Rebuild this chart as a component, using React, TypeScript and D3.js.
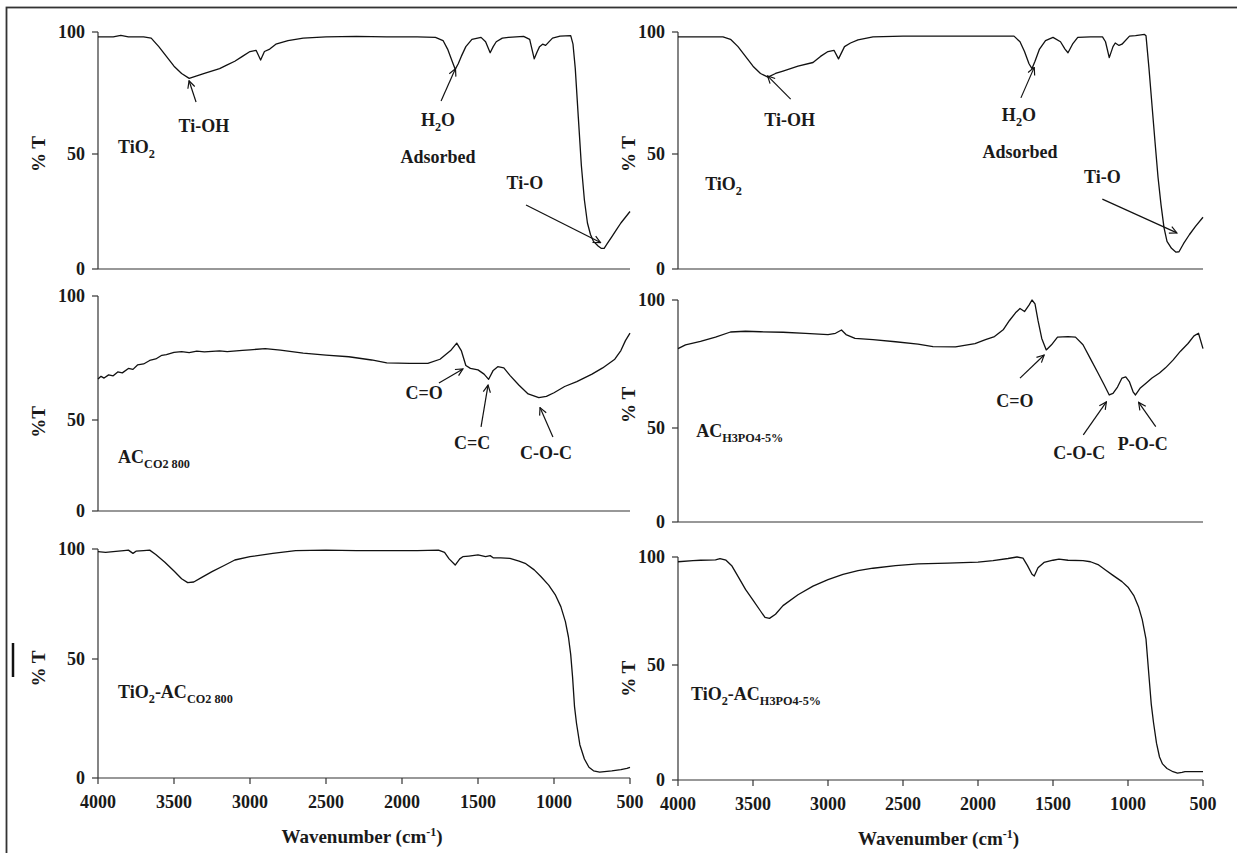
import React from "react";
import * as d3 from "d3";

// wavenumber ticks and %T ticks
const xTicks = [4000, 3500, 3000, 2500, 2000, 1500, 1000, 500];
const yTicks = [0, 50, 100];

// [wavenumber cm-1, %T]
const tio2Left: [number, number][] = [
  [4000, 98], [3900, 98], [3850, 98.6], [3800, 98], [3700, 98], [3650, 97.5], [3600, 94],
  [3550, 90], [3500, 86], [3450, 83], [3400, 81], [3350, 82], [3300, 83], [3200, 85],
  [3150, 86.5], [3100, 88], [3050, 90], [3000, 92], [2960, 92.5], [2930, 88.5], [2905, 92],
  [2870, 93], [2830, 95], [2750, 96.5], [2650, 97.5], [2500, 98], [2300, 98.2], [2100, 98],
  [1900, 98], [1780, 97.8], [1730, 96.5], [1700, 93], [1670, 88], [1650, 84.7], [1630, 87],
  [1610, 90], [1580, 94], [1540, 97], [1480, 97.8], [1450, 96], [1420, 91.5], [1400, 94],
  [1380, 96], [1340, 97.5], [1300, 97.8], [1200, 98.2], [1160, 97], [1130, 89], [1110, 92],
  [1095, 94], [1075, 95], [1055, 94.5], [1010, 97.5], [960, 98.3], [890, 98.5], [875, 95],
  [860, 85], [840, 65], [820, 45], [800, 30], [780, 20], [760, 15], [740, 12], [710, 10],
  [690, 9], [670, 9], [650, 11], [620, 14], [590, 17], [560, 20], [530, 22.5], [500, 25],
];

const tio2Right: [number, number][] = [
  [4000, 98], [3900, 98], [3800, 98], [3700, 98], [3650, 97], [3600, 94], [3550, 90],
  [3500, 86], [3450, 83], [3400, 81.5], [3350, 83], [3300, 84], [3200, 86], [3100, 87.5],
  [3050, 90], [3000, 92], [2960, 92.5], [2930, 89], [2890, 94], [2850, 95.5], [2800, 96.8],
  [2700, 98], [2500, 98.3], [2200, 98.3], [1900, 98.3], [1760, 98.3], [1720, 96], [1690, 92],
  [1660, 87], [1640, 85], [1620, 88], [1590, 93], [1550, 96.5], [1500, 97.8], [1450, 96],
  [1420, 93], [1400, 91.5], [1370, 95], [1335, 97.8], [1250, 98], [1170, 98], [1150, 96],
  [1125, 89.5], [1100, 94], [1085, 95.5], [1060, 94.5], [1040, 95], [990, 98.3], [950, 98.5],
  [890, 99], [880, 98.5], [860, 85], [840, 70], [820, 55], [800, 40], [780, 28], [760, 18],
  [740, 12], [710, 9], [680, 7.3], [660, 7.5], [630, 11], [590, 15], [550, 18.5], [500, 22.5],
];

const acCo2: [number, number][] = [
  [4000, 66.5], [3980, 67.6], [3960, 66.9], [3930, 68.2], [3900, 67.8], [3870, 69.4],
  [3840, 69], [3800, 70.8], [3770, 70.4], [3740, 72.2], [3700, 72.6], [3660, 74], [3620, 74.6],
  [3580, 76.1], [3550, 76.4], [3500, 77.3], [3450, 77.6], [3400, 77.2], [3350, 77.8],
  [3300, 77.5], [3200, 77.9], [3150, 77.6], [3050, 78.1], [3000, 78.3], [2900, 78.8],
  [2800, 78.2], [2650, 77], [2500, 76.2], [2350, 75.5], [2200, 74.2], [2100, 73], [1950, 72.8],
  [1830, 72.8], [1750, 74.5], [1680, 78], [1640, 81], [1610, 78], [1580, 72], [1550, 70.8],
  [1500, 70.2], [1460, 68.5], [1430, 66.4], [1400, 70], [1370, 71.5], [1330, 71], [1290, 68],
  [1230, 64], [1170, 60.5], [1100, 59], [1050, 59.5], [1000, 61], [930, 63.5], [850, 65.5],
  [750, 68.5], [680, 71], [600, 74.5], [560, 78], [530, 82], [500, 85],
];

const acH3po4: [number, number][] = [
  [4000, 81], [3950, 82.5], [3850, 83.8], [3750, 85.5], [3650, 87.5], [3550, 87.8],
  [3450, 87.6], [3300, 87.4], [3150, 87], [3000, 86.5], [2950, 87], [2910, 88.3], [2880, 86.5],
  [2820, 85], [2700, 84.5], [2550, 83.7], [2400, 82.8], [2300, 81.8], [2150, 81.7],
  [2020, 83], [1950, 84.5], [1890, 85.7], [1830, 88.5], [1790, 92], [1750, 95], [1720, 96.7],
  [1690, 95.5], [1660, 98], [1640, 100], [1620, 98.5], [1600, 92], [1575, 85], [1545, 80.5],
  [1510, 82.5], [1470, 85.5], [1400, 85.7], [1350, 85.5], [1300, 82.5], [1250, 77],
  [1200, 71.5], [1160, 67], [1125, 62.9], [1100, 63.5], [1070, 66], [1040, 69.5], [1015, 70],
  [990, 68], [965, 64], [950, 62.9], [920, 65.5], [880, 67.5], [840, 69.5], [790, 71.5],
  [750, 73.5], [700, 76.5], [650, 80], [600, 83], [560, 86], [530, 87], [500, 81],
];

const tio2AcCo2: [number, number][] = [
  [4000, 98.8], [3950, 98.5], [3900, 98.8], [3830, 99.3], [3800, 99.5], [3770, 98],
  [3750, 99], [3700, 99.3], [3660, 99.5], [3620, 97.5], [3560, 94], [3500, 90], [3450, 86.5],
  [3410, 84.7], [3370, 85], [3320, 87], [3250, 89.7], [3170, 92.5], [3100, 95], [3000, 96.5],
  [2850, 98], [2700, 99.3], [2500, 99.5], [2300, 99.3], [2100, 99.3], [1900, 99.3],
  [1760, 99.5], [1720, 98.5], [1690, 95.5], [1650, 92.7], [1620, 95.5], [1600, 96.5],
  [1560, 96.8], [1500, 97.3], [1450, 96.5], [1420, 97], [1400, 96], [1350, 96], [1290, 95.7],
  [1230, 94.5], [1190, 93.5], [1130, 90.5], [1085, 87.4], [1035, 83.6], [990, 79], [955, 73.8],
  [925, 67], [905, 60], [890, 52], [878, 42.6], [865, 30], [852, 23], [830, 14], [800, 8],
  [770, 4.5], [740, 3], [700, 2.5], [668, 2.7], [620, 3], [560, 3.5], [520, 4], [500, 4.5],
];

const tio2AcH3po4: [number, number][] = [
  [4000, 97.8], [3900, 98.3], [3850, 98.5], [3750, 98.7], [3720, 99.3], [3680, 98.5],
  [3640, 95.8], [3600, 91], [3550, 85], [3500, 80], [3450, 75], [3420, 72], [3390, 71.6],
  [3350, 73.5], [3300, 77.5], [3200, 82.5], [3100, 86.5], [3000, 89.5], [2900, 92],
  [2800, 93.7], [2700, 94.8], [2550, 96], [2400, 96.8], [2200, 97.2], [2000, 97.6],
  [1900, 98.3], [1800, 99.3], [1740, 100], [1700, 99.5], [1670, 96], [1640, 92], [1625, 91.2],
  [1600, 95], [1560, 97.5], [1500, 98.5], [1460, 99], [1400, 98.5], [1300, 98.3], [1250, 97.8],
  [1200, 96.5], [1150, 94], [1100, 91.5], [1040, 88.6], [1000, 86], [960, 82], [930, 77],
  [905, 71], [880, 62], [860, 45], [845, 33], [830, 25], [810, 16], [790, 10], [770, 7],
  [740, 5], [700, 3.6], [670, 3], [640, 3.3], [620, 3.6], [560, 3.6], [500, 3.6],
];

// sample names: [text, subscript?]
const nameTio2: [string, boolean][] = [["TiO", false], ["2", true]];
const nameAcCo2: [string, boolean][] = [["AC", false], ["CO2 800", true]];
const nameAcH3po4: [string, boolean][] = [["AC", false], ["H3PO4-5%", true]];
const nameTio2AcCo2: [string, boolean][] = [["TiO", false], ["2", true], ["-AC", false], ["CO2 800", true]];
const nameTio2AcH3po4: [string, boolean][] = [["TiO", false], ["2", true], ["-AC", false], ["H3PO4-5%", true]];
const nameH2o: [string, boolean][] = [["H", false], ["2", true], ["O", false]];

type Note = {
  label: [string, boolean][] | string;
  at: [number, number];
  from?: [number, number];
  to?: [number, number];
};

const notesTio2Left: Note[] = [
  { label: "Ti-OH", at: [3303, 61.5], from: [3355, 71.3], to: [3401, 80] },
  { label: nameH2o, at: [1763, 61.5], from: [1743, 71.7], to: [1648, 85] },
  { label: "Adsorbed", at: [1763, 48.7] },
  { label: "Ti-O", at: [1191, 37.4], from: [1184, 27.8], to: [694, 11.5] },
];
const notesTio2Right: Note[] = [
  { label: "Ti-OH", at: [3256, 64], from: [3249, 72.5], to: [3403, 82] },
  { label: nameH2o, at: [1727, 63.5], from: [1714, 73], to: [1625, 85.5] },
  { label: "Adsorbed", at: [1720, 51.2] },
  { label: "Ti-O", at: [1171, 40], from: [1171, 30.4], to: [674, 15.7] },
];
const notesAcCo2: Note[] = [
  { label: "C=O", at: [1855, 60.9], from: [1757, 64.9], to: [1599, 70.6] },
  { label: "C=C", at: [1539, 37.4], from: [1480, 46.2], to: [1434, 64.1] },
  { label: "C-O-C", at: [1053, 32.4], from: [1007, 40.7], to: [1092, 55] },
];
const notesAcH3po4: Note[] = [
  { label: "C=O", at: [1754, 60.9], from: [1720, 69.5], to: [1559, 78.5] },
  { label: "C-O-C", at: [1325, 36.7], from: [1298, 46.3], to: [1144, 60.2] },
  { label: "P-O-C", at: [902, 41.5], from: [815, 50.5], to: [929, 60] },
];

type Panel = {
  data: [number, number][];
  xr: [number, number];
  yr: [number, number, number]; // pixel for 0, 50, 100
  name: [string, boolean][];
  nameAt: [number, number];
  yLabel: string;
  yLabelAt: number;
  notes: Note[];
  bottom: boolean;
};

const LEFT: [number, number] = [98, 630];
const RIGHT: [number, number] = [678, 1203];

const panels: Panel[] = [
  { data: tio2Left, xr: LEFT, yr: [269, 154, 32], name: nameTio2, nameAt: [3868, 50.4], yLabel: "% T", yLabelAt: 50, notes: notesTio2Left, bottom: false },
  { data: tio2Right, xr: RIGHT, yr: [269, 154, 32], name: nameTio2, nameAt: [3819, 34.3], yLabel: "% T", yLabelAt: 50, notes: notesTio2Right, bottom: false },
  { data: acCo2, xr: LEFT, yr: [511, 420, 296], name: nameAcCo2, nameAt: [3868, 26.4], yLabel: "%T", yLabelAt: 49, notes: notesAcCo2, bottom: false },
  { data: acH3po4, xr: RIGHT, yr: [522, 428, 300], name: nameAcH3po4, nameAt: [3879, 45.2], yLabel: "% T", yLabelAt: 59, notes: notesAcH3po4, bottom: false },
  { data: tio2AcCo2, xr: LEFT, yr: [778, 659, 549], name: nameTio2AcCo2, nameAt: [3868, 33.6], yLabel: "% T", yLabelAt: 46, notes: [], bottom: true },
  { data: tio2AcH3po4, xr: RIGHT, yr: [780, 665, 557], name: nameTio2AcH3po4, nameAt: [3913, 34.8], yLabel: "% T", yLabelAt: 44, notes: [], bottom: true },
];

const font = "'Liberation Serif'";
const ink = "#1a1a1a";

function Rich({ parts, size }: { parts: [string, boolean][]; size: number }) {
  let shift = 0;
  return (
    <>
      {parts.map(([t, sub], i) => {
        const dy = sub ? 5 - shift : -shift;
        shift = sub ? 5 : 0;
        return (
          <tspan key={i} dy={dy} fontSize={sub ? size * 0.68 : size}>
            {t}
          </tspan>
        );
      })}
    </>
  );
}

function SpectrumPanel({ p }: { p: Panel }) {
  const x = d3.scaleLinear().domain([4000, 500]).range(p.xr);
  const y = d3.scaleLinear().domain([0, 50, 100]).range(p.yr);
  const line = d3
    .line<[number, number]>()
    .x((d) => x(d[0]))
    .y((d) => y(d[1]));
  const x0 = p.xr[0];

  return (
    <g fontFamily={font} fontWeight="bold" fill={ink}>
      {/* axes */}
      <line x1={x0} x2={x0} y1={y(0)} y2={y(100)} stroke="#333" strokeWidth={1.2} />
      <line x1={x0} x2={p.xr[1]} y1={y(0)} y2={y(0)} stroke="#333" strokeWidth={1.2} />
      {yTicks.map((t) => (
        <g key={t}>
          <line x1={x0 - 6} x2={x0} y1={y(t)} y2={y(t)} stroke="#333" strokeWidth={1.2} />
          <text x={x0 - 13} y={y(t)} dy="0.36em" textAnchor="end" fontSize={18}>
            {t}
          </text>
        </g>
      ))}
      {p.bottom &&
        xTicks.map((t) => (
          <g key={t}>
            <line x1={x(t)} x2={x(t)} y1={y(0)} y2={y(0) + 6} stroke="#333" strokeWidth={1.2} />
            <text x={x(t)} y={y(0) + 30} textAnchor="middle" fontSize={18}>
              {t}
            </text>
          </g>
        ))}
      {p.bottom && (
        <text x={(p.xr[0] + p.xr[1]) / 2 - 2} y={y(0) + 65} textAnchor="middle" fontSize={19}>
          Wavenumber (cm
          <tspan dy={-7} fontSize={12}>-1</tspan>
          <tspan dy={7}>)</tspan>
        </text>
      )}
      <text
        transform={`translate(${x0 - (x0 < 300 ? 60 : 50)},${y(p.yLabelAt)}) rotate(-90)`}
        textAnchor="middle"
        dy="0.36em"
        fontSize={19}
      >
        {p.yLabel}
      </text>

      {/* spectrum */}
      <path d={line(p.data) ?? ""} fill="none" stroke="#111" strokeWidth={1.3} strokeLinejoin="round" />

      {/* sample name */}
      <text x={x(p.nameAt[0])} y={y(p.nameAt[1])} dy="0.36em" fontSize={18}>
        <Rich parts={p.name} size={18} />
      </text>

      {/* band assignments */}
      {p.notes.map((n, i) => (
        <g key={i}>
          <text x={x(n.at[0])} y={y(n.at[1])} dy="0.36em" textAnchor="middle" fontSize={18}>
            {typeof n.label === "string" ? n.label : <Rich parts={n.label} size={18} />}
          </text>
          {n.from && n.to && (
            <line
              x1={x(n.from[0])}
              y1={y(n.from[1])}
              x2={x(n.to[0])}
              y2={y(n.to[1])}
              stroke="#111"
              strokeWidth={1.2}
              markerEnd="url(#openHead)"
            />
          )}
        </g>
      ))}
    </g>
  );
}

export default function App() {
  return (
    <svg
      width={1237}
      height={853}
      style={{ position: "absolute", left: 0, top: 0, background: "#fff" }}
    >
      <defs>
        <marker
          id="openHead"
          viewBox="0 0 10 10"
          refX={9}
          refY={5}
          markerWidth={9}
          markerHeight={9}
          markerUnits="userSpaceOnUse"
          orient="auto"
        >
          <path d="M1,1 L9,5 L1,9" fill="none" stroke="#111" strokeWidth={1.3} />
        </marker>
      </defs>
      <rect x={6.5} y={7.5} width={1300} height={900} fill="none" stroke="#333" strokeWidth={1.8} />
      <line x1={13} x2={13} y1={643} y2={677} stroke="#111" strokeWidth={2.5} />
      {panels.map((p, i) => (
        <SpectrumPanel key={i} p={p} />
      ))}
    </svg>
  );
}
